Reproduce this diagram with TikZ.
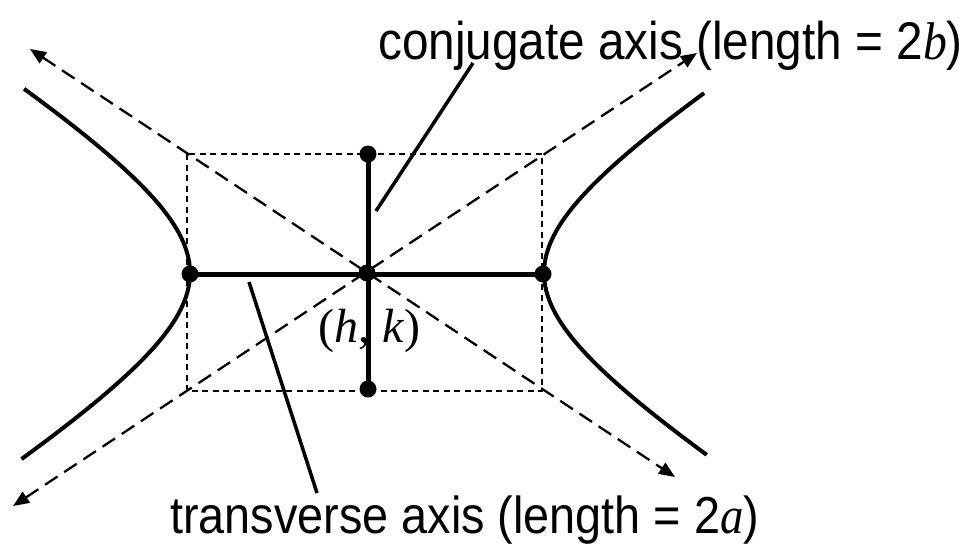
\documentclass[tikz,border=0pt]{standalone}
\usepackage{fontspec}
\setmainfont{Liberation Sans}
\newfontfamily\labfont[FakeStretch=0.9]{Liberation Sans}
\newfontfamily\labser[FakeStretch=0.9]{Liberation Serif}
\newfontfamily\serfont{Liberation Serif}
\usetikzlibrary{arrows.meta}
\begin{document}
\begin{tikzpicture}[x=1pt,y=-1pt,
  dot/.style={circle,fill=black,inner sep=0pt,minimum size=17pt},
  axisline/.style={line width=5pt},
  hyp/.style={line width=4pt},
  asym/.style={line width=2.3pt,dash pattern=on 15pt off 8pt,
    {Triangle[length=16pt,width=13pt]}-{Triangle[length=16pt,width=13pt]}},
  boxline/.style={line width=1.7pt,dash pattern=on 6pt off 4.5pt},
  leader/.style={line width=3.5pt},
  lab/.style={inner sep=0pt,anchor=base west,font=\labfont\fontsize{52}{60}\selectfont}
]
\useasboundingbox (0,0) rectangle (974,544);
% box
\coordinate (b1) at (187,154);
\coordinate (b2) at (542,391);
\draw[boxline] (b1) rectangle (b2);
% asymptotes
\coordinate (tl) at (30,49);
\coordinate (br) at (675,477);
\coordinate (bl) at (13,506);
\coordinate (tr) at (697,53);
\draw[asym] (bl) -- (tr);
\draw[asym] (tl) -- (br);
% hyperbola
\draw[hyp] plot[domain=-1.28:1.29,samples=80,smooth,variable=\t]
  ({367-177*cosh(\t)},{273+111*sinh(\t)});
\draw[hyp] plot[domain=-1.26:1.27,samples=80,smooth,variable=\t]
  ({367+177*cosh(\t)},{273+111*sinh(\t)});
% axes
\node[dot] (c) at (367,273) {};
\node[dot] (lv) at (190,274) {};
\node[dot] (rv) at (543,274) {};
\node[dot] (tv) at (368,154) {};
\node[dot] (bv) at (368,389) {};
\draw[axisline] (lv.center) -- (rv.center);
\draw[axisline] (tv.center) -- (bv.center);
% labels
\node[lab,font=\labfont\fontsize{53}{60}\selectfont] (conj) at (378,59) {conjugate axis (length = 2{\labser\itshape b})};
\node[lab] (trans) at (170,533) {transverse axis (length = 2{\labser\itshape a})};
\node[inner sep=0pt,anchor=base west,font=\serfont\fontsize{48}{56}\selectfont] (hk) at (318,342) {(\textit{h}, \textit{k})};
% leaders
\coordinate (cl1) at (376,211);
\coordinate (cl2) at (473,63);
\coordinate (tl1) at (249,282);
\coordinate (tl2) at (317,493);
\draw[leader] (cl1) -- (cl2);
\draw[leader] (tl1) -- (tl2);
\end{tikzpicture}
\end{document}
